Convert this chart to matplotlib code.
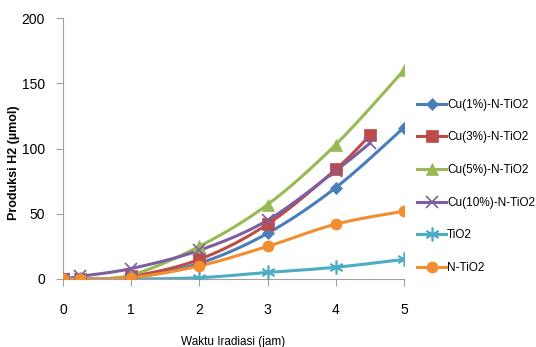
import numpy as np
import matplotlib.pyplot as plt

# ==========================================
# DATA
# ==========================================
x_full = [0, 0.25, 1, 2, 3, 4, 5]
x_short = [0, 0.25, 1, 2, 3, 4, 4.5]

cu1 = [0, 0, 1, 12, 35, 70, 116]
cu3 = [0, 0, 2, 15, 42, 84, 110]
cu5 = [0, 0, 3, 25, 57, 103, 160]
cu10 = [0, 2, 8, 22, 45, 83, 104]
tio2 = [0, 0, 0, 1, 5, 9, 15]
ntio2 = [0, 0, 1, 10, 25, 42, 52]

labels = ['Cu(1%)-N-TiO2', 'Cu(3%)-N-TiO2', 'Cu(5%)-N-TiO2',
          'Cu(10%)-N-TiO2', 'TiO2', 'N-TiO2']
colors = ['#4A7EBB', '#BE4B48', '#98B954', '#7D5FA0', '#4BACC6', '#F28E30']
markers = ['D', 's', '^', 'x', (6, 2, 0), 'o']

plt.rcParams['font.family'] = ['Liberation Sans', 'DejaVu Sans']


def smooth(xs, ys, n=20):
    # Catmull-Rom style curve through the points (like Excel smoothed lines)
    xs = np.asarray(xs, float)
    ys = np.asarray(ys, float)
    P = np.column_stack([xs, ys])
    P = np.vstack([P[0], P, P[-1]])
    out = []
    for i in range(1, len(P) - 2):
        p0, p1, p2, p3 = P[i - 1], P[i], P[i + 1], P[i + 2]
        t = np.linspace(0, 1, n)[:, None]
        c1 = p1 + (p2 - p0) / 6
        c2 = p2 - (p3 - p1) / 6
        seg = ((1 - t) ** 3) * p1 + 3 * ((1 - t) ** 2) * t * c1 + 3 * (1 - t) * t ** 2 * c2 + t ** 3 * p2
        out.append(seg)
    out = np.vstack(out)
    return out[:, 0], out[:, 1]


fig = plt.figure(figsize=(5.36, 3.47), dpi=100)
ax = fig.add_axes([0.1175, 0.196, 0.636, 0.752])

series = [(x_full, cu1), (x_short, cu3), (x_full, cu5),
          (x_short, cu10), (x_full, tio2), (x_full, ntio2)]
msizes = [6, 8, 8, 8, 10, 8]

for (xs, ys), lab, c, m, ms in zip(series, labels, colors, markers, msizes):
    mew = 1.2 if m in ('x', (6, 2, 0)) else 0.5
    sx, sy = smooth(xs, ys)
    ax.plot(sx, sy, color=c, lw=2.2, zorder=2)
    ax.plot(xs, ys, linestyle='none', marker=m, color=c, ms=ms, mew=mew, zorder=3)
    ax.plot([], [], color=c, lw=2.2, marker=m, ms=ms, mew=mew, label=lab)

ax.set_xlim(0, 5)
ax.set_ylim(0, 200)
ax.set_xticks(range(6))
ax.set_yticks(range(0, 201, 50))
for s in ['top', 'right']:
    ax.spines[s].set_visible(False)
for s in ['left', 'bottom']:
    ax.spines[s].set_color('#A0A0A0')
ax.tick_params(axis='both', colors='#A0A0A0', labelcolor='black', labelsize=10, length=5)
ax.tick_params(axis='x', pad=12)
ax.tick_params(axis='y', pad=8)

ax.set_ylabel('Produksi H2 (µmol)', fontsize=9, fontweight='bold', va='center')
ax.yaxis.set_label_coords(-0.145, 0.445)
ax.set_xlabel('Waktu Iradiasi (jam)', fontsize=8.5, labelpad=14)

ax.legend(loc='center left', bbox_to_anchor=(1.026, 0.355), frameon=False,
          fontsize=8.5, handlelength=2.4, labelspacing=1.75, handletextpad=0.1,
          borderaxespad=0.0)

fig.savefig('out.png', dpi=100)
